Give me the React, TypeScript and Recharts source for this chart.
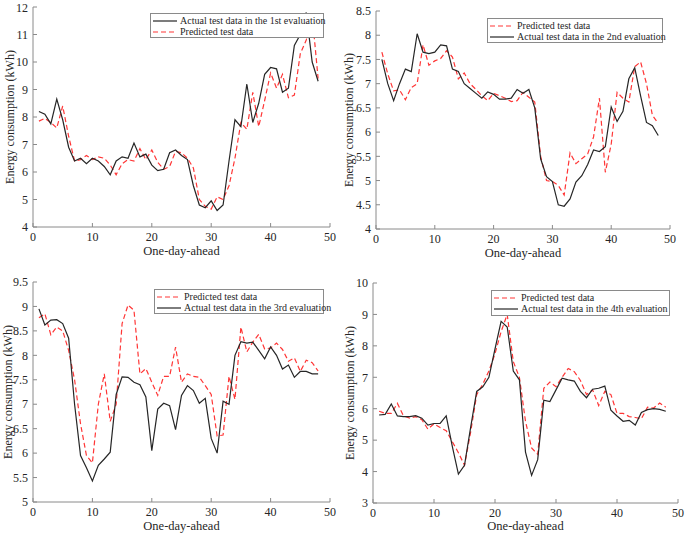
import { LineChart, Line, XAxis, YAxis, Legend } from "recharts"

const days = Array.from({ length: 48 }, (_, i) => i + 1)
const xTicks = [0, 10, 20, 30, 40, 50]

// 1st evaluation
const actual1 = [
  8.2, 8.1, 7.75, 8.65, 7.9, 6.9, 6.4, 6.5, 6.3, 6.5, 6.4, 6.2, 5.9, 6.4, 6.55, 6.5,
  7.05, 6.55, 6.65, 6.25, 6.05, 6.1, 6.7, 6.8, 6.6, 6.45, 5.5, 4.8, 4.7, 4.95, 4.6, 4.8,
  6.4, 7.9, 7.65, 9.2, 7.8, 8.5, 9.55, 9.8, 9.75, 8.9, 9.05, 10.6, 11.0, 11.8, 10.0, 9.3,
]
const predicted1 = [
  7.85, 7.95, 7.8, 7.6, 8.4, 7.3, 6.4, 6.45, 6.6, 6.45, 6.55, 6.5, 6.25, 5.9, 6.3, 6.45,
  6.4, 6.85, 6.45, 6.8, 6.35, 6.1, 6.2, 6.75, 6.7, 6.5, 6.15, 5.0, 4.75, 4.65, 5.1, 5.0,
  5.5, 6.5, 7.8, 7.55, 8.9, 7.65, 8.6, 9.6, 9.05, 9.55, 8.7, 8.8, 10.3, 10.8, 11.7, 9.4,
]

// 2nd evaluation
const actual2 = [
  7.5, 7.0, 6.65, 7.0, 7.3, 7.25, 8.03, 7.65, 7.62, 7.65, 7.8, 7.78, 7.3, 7.25, 7.0, 6.9,
  6.8, 6.7, 6.83, 6.78, 6.68, 6.68, 6.7, 6.88, 6.8, 6.88, 6.5, 5.45, 5.08, 4.98, 4.5, 4.47,
  4.62, 4.97, 5.1, 5.33, 5.63, 5.6, 5.7, 6.52, 6.22, 6.43, 7.1, 7.33, 6.75, 6.2, 6.13, 5.93,
]
const predicted2 = [
  7.65, 7.2, 6.85, 6.87, 6.67, 6.92, 7.0, 7.8, 7.38, 7.47, 7.52, 7.68, 7.55, 7.1, 7.22, 7.0,
  6.88, 6.75, 6.65, 6.8, 6.75, 6.7, 6.63, 6.65, 6.82, 6.72, 6.62, 5.5, 5.0, 4.98, 4.9, 4.7,
  5.57, 5.35, 5.45, 5.55, 5.9, 6.7, 5.17, 5.75, 6.82, 6.7, 6.62, 7.35, 7.45, 7.0, 6.35, 6.18,
]

// 3rd evaluation
const actual3 = [
  8.95, 8.62, 8.72, 8.73, 8.65, 8.35, 7.0, 5.95, 5.7, 5.43, 5.75, 5.88, 6.02, 7.2, 7.56, 7.55,
  7.45, 7.4, 7.15, 6.05, 6.9, 7.02, 6.97, 6.48, 7.18, 7.38, 7.28, 7.02, 7.12, 6.3, 6.0, 7.06,
  7.0, 8.0, 8.28, 8.25, 8.27, 8.1, 7.93, 8.17, 8.0, 7.72, 7.8, 7.55, 7.67, 7.67, 7.62, 7.62,
]
const predicted3 = [
  8.77, 8.85, 8.42, 8.58, 8.5, 8.1, 7.5, 6.6, 5.95, 5.8, 7.0, 7.62, 6.65, 7.0, 8.65, 9.03,
  8.92, 7.62, 7.73, 7.45, 7.18, 7.57, 7.57, 8.17, 7.45, 7.62, 7.57, 7.55, 7.38, 7.2, 6.35, 6.37,
  7.57, 7.1, 8.58, 8.07, 8.27, 8.43, 8.13, 8.15, 8.25, 8.12, 7.88, 7.95, 7.67, 7.9, 7.85, 7.68,
]

// 4th evaluation
const actual4 = [
  5.8, 5.82, 6.15, 5.77, 5.75, 5.75, 5.78, 5.7, 5.48, 5.53, 5.53, 5.77, 4.8, 3.92, 4.2, 5.4,
  6.55, 6.7, 7.0, 7.9, 8.78, 8.6, 7.2, 6.92, 4.62, 3.88, 4.38, 6.27, 6.23, 6.6, 6.97, 6.92,
  6.88, 6.55, 6.35, 6.62, 6.65, 6.72, 5.95, 5.77, 5.6, 5.63, 5.48, 5.88, 5.97, 6.0, 5.98, 5.92,
]
const predicted4 = [
  5.92, 5.85, 5.85, 6.17, 5.77, 5.7, 5.75, 5.65, 5.35, 5.52, 5.4, 5.3, 4.95, 4.6, 4.2, 5.25,
  6.45, 6.78, 7.2, 7.75, 8.45, 9.0, 7.5, 7.0, 5.6, 4.75, 4.55, 6.65, 6.85, 6.7, 7.0, 7.28,
  7.18, 6.9, 6.45, 6.6, 6.1, 6.55, 6.45, 5.85, 5.85, 5.75, 5.72, 5.68, 6.05, 6.02, 6.18, 6.05,
]

const yTicks1 = [4, 5, 6, 7, 8, 9, 10, 11, 12]
const yTicks2 = [4, 4.5, 5, 5.5, 6, 6.5, 7, 7.5, 8, 8.5]
const yTicks3 = [5, 5.5, 6, 6.5, 7, 7.5, 8, 8.5, 9, 9.5]
const yTicks4 = [3, 4, 5, 6, 7, 8, 9, 10]

const actualNames = [
  "Actual test data in the 1st evaluation",
  "Actual test data in the 2nd evaluation",
  "Actual test data in the 3rd evaluation",
  "Actual test data in the 4th evaluation",
]
const predictedName = "Predicted test data"

const SERIF = '"Liberation Serif", "DejaVu Serif", serif'
const AXIS = "#8a8a8a"
const TEXT = "#262626"
const BLACK = "#262626"
const RED = "#ff3636"

type Box = { left: number; top: number; width: number; height: number }

function LegendBox({ rows, box }: { rows: { name: string; color: string; dash?: string }[]; box: Box }) {
  return (
    <div
      style={{
        width: box.width,
        height: box.height,
        border: "1px solid " + AXIS,
        background: "#fff",
        boxSizing: "border-box",
        padding: "1px 0 0 2px",
        fontFamily: SERIF,
        fontSize: 10,
        color: TEXT,
      }}
    >
      {rows.map((r) => (
        <div key={r.name} style={{ display: "flex", alignItems: "center", height: 11 }}>
          <svg width={24} height={6} style={{ flex: "none" }}>
            <line x1={0} y1={3} x2={24} y2={3} stroke={r.color} strokeWidth={1.2} strokeDasharray={r.dash} />
          </svg>
          <span style={{ marginLeft: 3, whiteSpace: "nowrap", lineHeight: "11px" }}>{r.name}</span>
        </div>
      ))}
    </div>
  )
}

type PanelProps = {
  actual: number[]
  predicted: number[]
  actualName: string
  actualFirst: boolean
  yTicks: number[]
  pos: { left: number; top: number; width: number; height: number }
  plot: { top: number; right: number; yW: number; xH: number }
  yLabelDx: number
  xLabelOffset: number
  legend: Box
}

function Panel(p: PanelProps) {
  const data = days.map((d, i) => ({ day: d, actual: p.actual[i], predicted: p.predicted[i] }))
  const domain: [number, number] = [p.yTicks[0], p.yTicks[p.yTicks.length - 1]]
  const actualRow = { name: p.actualName, color: BLACK }
  const predRow = { name: predictedName, color: RED, dash: "5 3" }
  const rows = p.actualFirst ? [actualRow, predRow] : [predRow, actualRow]
  const tickStyle = { fontSize: 12, fill: TEXT, fontFamily: SERIF }
  return (
    <div style={{ position: "absolute", left: p.pos.left, top: p.pos.top, fontFamily: SERIF }}>
      <LineChart
        width={p.pos.width}
        height={p.pos.height}
        data={data}
        margin={{ top: p.plot.top, right: p.plot.right, left: 0, bottom: 0 }}
        style={{ fontFamily: SERIF }}
      >
        <XAxis
          dataKey="day"
          type="number"
          domain={[0, 50]}
          ticks={xTicks}
          height={p.plot.xH}
          stroke={AXIS}
          tickSize={-4}
          tickMargin={9}
          tick={tickStyle}
          label={{
            value: "One-day-ahead",
            position: "insideTop",
            offset: p.xLabelOffset,
            style: { fontSize: 12.5, fill: TEXT, fontFamily: SERIF },
          }}
        />
        <XAxis
          xAxisId="top"
          orientation="top"
          dataKey="day"
          type="number"
          domain={[0, 50]}
          ticks={xTicks}
          height={0}
          stroke={AXIS}
          tickSize={-4}
          tick={false}
        />
        <YAxis
          type="number"
          domain={domain}
          ticks={p.yTicks}
          width={p.plot.yW}
          stroke={AXIS}
          tickSize={-4}
          tickMargin={9}
          tick={tickStyle}
          label={{
            value: "Energy consumption (kWh)",
            angle: -90,
            position: "center",
            dx: p.yLabelDx,
            style: { fontSize: 12, fill: TEXT, fontFamily: SERIF },
          }}
        />
        <YAxis
          yAxisId="right"
          orientation="right"
          type="number"
          domain={domain}
          ticks={p.yTicks}
          width={0}
          stroke={AXIS}
          tickSize={-4}
          tick={false}
        />
        <Legend
          layout="horizontal"
          verticalAlign="middle"
          align="center"
          wrapperStyle={{ left: p.legend.left, top: p.legend.top, width: "auto", height: "auto" }}
          content={() => <LegendBox rows={rows} box={p.legend} />}
        />
        <Line
          dataKey="predicted"
          stroke={RED}
          strokeWidth={1.2}
          strokeDasharray="5 3"
          dot={false}
          isAnimationActive={false}
        />
        <Line dataKey="actual" stroke={BLACK} strokeWidth={1.2} dot={false} isAnimationActive={false} />
      </LineChart>
    </div>
  )
}

export default function App() {
  return (
    <div
      style={{
        position: "fixed",
        left: 0,
        top: 0,
        width: 685,
        height: 534,
        background: "#fff",
        overflow: "hidden",
        fontFamily: SERIF,
      }}
    >
      <Panel
        actual={actual1}
        predicted={predicted1}
        actualName={actualNames[0]}
        actualFirst={true}
        yTicks={yTicks1}
        pos={{ left: 0, top: 0, width: 342, height: 267 }}
        plot={{ top: 7, right: 12, yW: 33, xH: 40 }}
        yLabelDx={-6.5}
        xLabelOffset={19}
        legend={{ left: 150, top: 13, width: 174, height: 25 }}
      />
      <Panel
        actual={actual2}
        predicted={predicted2}
        actualName={actualNames[1]}
        actualFirst={false}
        yTicks={yTicks2}
        pos={{ left: 340, top: 0, width: 345, height: 267 }}
        plot={{ top: 11, right: 15, yW: 36, xH: 38 }}
        yLabelDx={-9}
        xLabelOffset={19}
        legend={{ left: 147, top: 18, width: 176, height: 25 }}
      />
      <Panel
        actual={actual3}
        predicted={predicted3}
        actualName={actualNames[2]}
        actualFirst={false}
        yTicks={yTicks3}
        pos={{ left: 0, top: 267, width: 342, height: 267 }}
        plot={{ top: 15, right: 12, yW: 33, xH: 32 }}
        yLabelDx={-8.5}
        xLabelOffset={19}
        legend={{ left: 154, top: 22, width: 170, height: 25 }}
      />
      <Panel
        actual={actual4}
        predicted={predicted4}
        actualName={actualNames[3]}
        actualFirst={false}
        yTicks={yTicks4}
        pos={{ left: 340, top: 267, width: 345, height: 267 }}
        plot={{ top: 16, right: 7, yW: 33, xH: 31 }}
        yLabelDx={-6.5}
        xLabelOffset={18}
        legend={{ left: 151, top: 23, width: 179, height: 26 }}
      />
    </div>
  )
}
